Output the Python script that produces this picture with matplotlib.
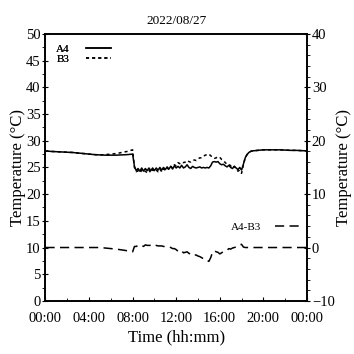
import numpy as np
import matplotlib
matplotlib.use("Agg")
import matplotlib.pyplot as plt
from matplotlib.ticker import MultipleLocator

plt.rcParams['font.family'] = ['Liberation Serif', 'DejaVu Serif']

# sampling times in minutes: half-hourly at night, every 10 min during the day
minutes = np.concatenate([np.arange(0, 481, 30),
                          np.arange(490, 1141, 10),
                          np.arange(1170, 1441, 30)])
t = minutes / 60.0

a4_night = [28.1, 28.0, 27.95, 27.9, 27.85, 27.8, 27.7, 27.6, 27.5, 27.4,
            27.35, 27.3, 27.3, 27.3, 27.35, 27.4, 27.5]
b3_night = [28.1, 28.0, 27.95, 27.9, 27.85, 27.8, 27.7, 27.6, 27.5, 27.4,
            27.35, 27.4, 27.5, 27.6, 27.8, 28.0, 28.3]

a4_morning = [25.2, 24.4, 24.8, 24.3, 24.9, 24.3, 24.8, 24.4, 24.9, 24.4,
              24.9, 24.4, 24.9, 24.5, 25.0, 24.5, 25.0, 24.6, 25.1, 24.7,
              25.2, 24.7, 25.3, 24.9]
b3_morning = [25.0, 24.2, 24.4, 24.0, 24.5, 24.1, 24.3, 24.0, 24.5, 24.0,
              24.6, 24.2, 24.5, 24.2, 24.7, 24.2, 24.8, 24.4, 24.9, 24.6,
              25.2, 24.9, 25.5, 25.3]

a4_afternoon = [25.2, 24.9, 25.4, 24.9, 25.1, 25.5, 25.0, 24.8, 25.2, 25.0,
                24.9, 25.0, 25.1, 24.9, 25.0, 24.9, 25.0, 24.9, 25.3, 26.0,
                26.1, 26.0, 26.1, 25.7, 25.5, 25.6, 25.3, 25.1, 25.4, 25.0,
                24.8, 25.2, 24.9, 24.6, 25.0, 24.5]
b3_afternoon = [25.9, 25.7, 26.0, 25.9, 26.0, 26.3, 26.1, 26.0, 26.3, 26.4,
                26.3, 26.6, 26.8, 26.8, 27.1, 27.3, 27.4, 27.5, 27.2, 26.9,
                26.7, 26.8, 27.0, 26.9, 26.5, 26.3, 25.9, 25.6, 25.6, 25.3,
                24.9, 25.2, 24.8, 24.3, 24.5, 23.9]

a4_evening = [25.6, 26.8, 27.4, 27.8, 28.0, 28.1,
              28.2, 28.3, 28.3, 28.3, 28.3, 28.25, 28.2, 28.2, 28.15, 28.1]
b3_evening = [25.5, 26.8, 27.4, 27.8, 28.0, 28.1,
              28.2, 28.3, 28.3, 28.3, 28.3, 28.25, 28.2, 28.2, 28.15, 28.1]

a4 = np.array(a4_night + a4_morning + a4_afternoon + a4_evening)
b3 = np.array(b3_night + b3_morning + b3_afternoon + b3_evening)
diff = a4 - b3

xticks = [0, 4, 8, 12, 16, 20, 24]
xlabels = ['00:00', '04:00', '08:00', '12:00', '16:00', '20:00', '00:00']

fig = plt.figure(figsize=(3.54, 3.54), dpi=100)
ax = fig.add_axes([0.1285, 0.150, 0.7385, 0.754])
ax2 = ax.twinx()

l1, = ax.plot(t, a4, color='black', lw=1.1, label='A4')
l2, = ax.plot(t, b3, color='black', lw=1.1, linestyle=(0, (2, 2)), label='B3')
l3, = ax2.plot(t, diff, color='black', lw=1.1, linestyle=(0, (6, 3.5)), label='A4-B3')

ax.set_xlim(0, 24)
ax.set_ylim(0, 50)
ax2.set_ylim(-10, 40)

ax.set_xticks(xticks)
ax.set_xticklabels(xlabels)
ax.xaxis.set_minor_locator(MultipleLocator(2))
ax.yaxis.set_major_locator(MultipleLocator(5))
ax.yaxis.set_minor_locator(MultipleLocator(2.5))
ax2.yaxis.set_major_locator(MultipleLocator(10))
ax2.yaxis.set_minor_locator(MultipleLocator(2))

ax.tick_params(axis='x', which='both', direction='in', labelsize=10.5, pad=8)
ax.tick_params(axis='x', which='major', length=3)
ax.tick_params(axis='x', which='minor', length=2)
ax.tick_params(axis='y', which='major', direction='inout', length=5, labelsize=10.5, pad=1)
ax.tick_params(axis='y', which='minor', direction='out', length=2)
ax2.tick_params(axis='y', which='major', direction='inout', length=5, labelsize=10.5, pad=1)
ax2.tick_params(axis='y', which='minor', direction='out', length=2)

for a in (ax, ax2):
    for s in a.spines.values():
        s.set_linewidth(1.2)

ax.set_xlabel('Time (hh:mm)', fontsize=12, labelpad=3)
ax.set_ylabel('Temperature (°C)', fontsize=12, labelpad=0)
ax2.set_ylabel('Temperature (°C)', fontsize=12, labelpad=1)
ax.set_title('2022/08/27', fontsize=9.5, pad=7)

leg1 = ax.legend(handles=[l1, l2], loc='upper left', frameon=False, fontsize=8,
                 markerfirst=False, handlelength=2.3, labelspacing=0.05,
                 borderaxespad=0.5, handletextpad=1.5)
ax.add_artist(leg1)
ax2.legend(handles=[l3], loc='center right', bbox_to_anchor=(1.0, 0.275),
           frameon=False, fontsize=8, markerfirst=False, handlelength=2.3,
           handletextpad=1.2, borderaxespad=0.2)

fig.savefig('out.png', dpi=100)
